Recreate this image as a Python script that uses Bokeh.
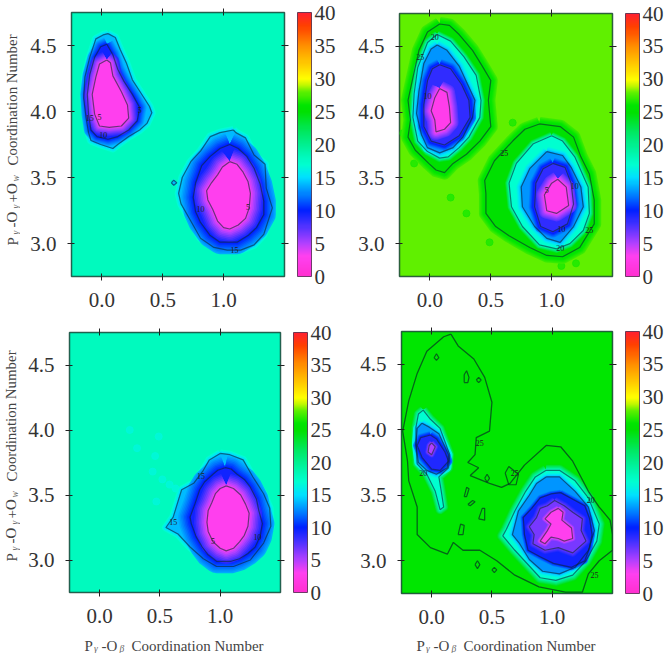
from bokeh.plotting import figure
from bokeh.layouts import column, row
from bokeh.models import (LinearAxis, FixedTicker, PrintfTickFormatter, ColorBar,
                          LinearColorMapper)
from bokeh.core.properties import value
from bokeh.embed import file_html
from bokeh.resources import INLINE

SERIF = "Liberation Serif"
X_TICKS = [0.0, 0.5, 1.0]
Y_TICKS = [3.0, 3.5, 4.0, 4.5]
BAR_TICKS = [0, 5, 10, 15, 20, 25, 30, 35, 40]

STOP_LEVELS = [0, 3, 5, 8, 10, 12, 15, 17, 18, 20, 22, 25, 26, 28, 29, 30, 32, 35, 38, 40]
STOP_COLORS = ["#ff30d0", "#ff40f0", "#b040ff", "#4030ff", "#0020ff", "#0070ff", "#00e0ff",
               "#00ffd0", "#00fabe", "#00f090", "#00e860", "#00e000", "#00e600", "#60f000",
               "#c0f800", "#ffff00", "#ffd000", "#ff9000", "#ff4000", "#ff2030"]

# ---- panel 1, upper-left basin
p1a15x = [.05,.11,.15,.20,.25,.32,.39,.41,.37,.31,.22,.13,.09,-.01,-.09,-.11,-.13,-.15,-.14,-.10,-.05,.01]
p1a15y = [4.59,4.56,4.47,4.37,4.24,4.14,4.04,3.99,3.91,3.86,3.81,3.75,3.72,3.75,3.78,3.84,3.95,4.10,4.26,4.41,4.55,4.58]
p1a10x = [.04,.09,.13,.18,.25,.31,.29,.22,.13,.05,-.04,-.09,-.11,-.12,-.10,-.06,-.01]
p1a10y = [4.51,4.43,4.32,4.23,4.13,4.03,3.93,3.86,3.81,3.79,3.81,3.86,3.98,4.13,4.28,4.41,4.49]
p1a05x = [.04,.07,.09,.16,.21,.22,.16,.06,-.02,-.06,-.08,-.05,-.02]
p1a05y = [4.39,4.37,4.27,4.15,4.05,3.95,3.89,3.88,3.89,3.98,4.13,4.26,4.36]
# ---- panel 1, lower-right basin
p1b15x = [1.08,.97,.89,.81,.73,.66,.63,.65,.73,.81,.92,1.03,1.14,1.25,1.33,1.40,1.35,1.34,1.25,1.18,1.10]
p1b15y = [3.86,3.84,3.81,3.70,3.62,3.50,3.38,3.30,3.17,3.04,2.97,2.95,2.95,2.99,3.07,3.27,3.42,3.60,3.67,3.80,3.84]
p1b10x = [1.05,1.12,1.19,1.25,1.30,1.33,1.33,1.27,1.20,1.11,.97,.89,.81,.77,.75,.77,.82,.89,.97]
p1b10y = [3.75,3.72,3.66,3.57,3.45,3.32,3.22,3.12,3.06,3.01,3.01,3.06,3.16,3.24,3.35,3.46,3.59,3.66,3.72]
p1b05x = [1.05,1.11,1.16,1.20,1.22,1.21,1.18,1.12,1.05,1.00,.95,.91,.87,.86,.90,.95,.99]
p1b05y = [3.62,3.60,3.54,3.47,3.38,3.27,3.19,3.14,3.11,3.12,3.17,3.26,3.33,3.40,3.46,3.52,3.58]
p1c15x = [.57,.59,.615,.59]
p1c15y = [3.46,3.48,3.46,3.44]
p1_label_x = [-.10,-.02,.01,.31,.81,1.20,1.09]
p1_label_y = [3.95,3.96,3.82,4.01,3.26,3.28,2.95]
p1_label_t = ["15","5","10","5","10","5","15"]

# ---- panel 2, upper-left basin
p2a25x = [.08,.16,.24,.35,.43,.50,.48,.50,.41,.30,.19,.12,.05,-.01,-.12,-.18,-.16,-.18,-.14,-.09,-.02]
p2a25y = [4.67,4.66,4.59,4.47,4.35,4.24,4.09,3.89,3.78,3.68,3.61,3.54,3.56,3.61,3.71,3.81,3.94,4.09,4.26,4.47,4.61]
p2a20x = [.06,.17,.28,.38,.42,.41,.32,.24,.15,.08,-.02,-.10,-.14,-.13,-.10,-.02]
p2a20y = [4.59,4.54,4.42,4.28,4.09,3.96,3.81,3.73,3.66,3.65,3.70,3.78,3.96,4.14,4.34,4.53]
p2a15x = [.06,.14,.24,.31,.37,.35,.27,.19,.08,-.02,-.07,-.11,-.09,-.05,.01]
p2a15y = [4.51,4.47,4.35,4.21,4.09,3.96,3.81,3.73,3.69,3.73,3.83,3.99,4.16,4.37,4.48]
p2a10x = [.08,.17,.26,.32,.33,.24,.12,.01,-.05,-.05,-.02,.02]
p2a10y = [4.36,4.33,4.21,4.09,3.96,3.82,3.75,3.78,3.89,4.06,4.24,4.33]
p2a05x = [.08,.14,.16,.17,.12,.05,.04,.01,.04]
p2a05y = [4.18,4.15,4.04,3.92,3.87,3.85,3.94,4.01,4.11]
# ---- panel 2, lower-right basin
p2b25x = [.90,1.07,1.18,1.24,1.31,1.35,1.35,1.23,1.09,.96,.82,.65,.54,.46,.46,.45,.53,.68,.78]
p2b25y = [3.91,3.89,3.81,3.66,3.53,3.33,3.15,2.97,2.90,2.91,2.97,3.06,3.13,3.23,3.38,3.48,3.63,3.78,3.87]
p2b20x = [1.00,1.09,1.19,1.30,1.31,1.26,1.15,1.04,.90,.76,.67,.65,.71,.85]
p2b20y = [3.82,3.78,3.66,3.43,3.23,3.10,3.00,2.96,2.99,3.13,3.28,3.46,3.61,3.76]
p2b15x = [.96,1.09,1.16,1.24,1.26,1.18,1.07,.96,.86,.76,.75,.82]
p2b15y = [3.70,3.67,3.58,3.43,3.28,3.13,3.01,3.04,3.13,3.28,3.43,3.57]
p2b10x = [1.01,1.11,1.16,1.18,1.13,1.01,.91,.86,.87,.93]
p2b10y = [3.61,3.58,3.46,3.30,3.15,3.09,3.13,3.28,3.46,3.57]
p2b05x = [1.05,1.12,1.14,1.04,.96,.94,1.00]
p2b05y = [3.49,3.43,3.29,3.23,3.25,3.37,3.46]
p2_speck_x = [.17,.30,.49,.68,-.13,-.22,1.08,1.20]
p2_speck_y = [3.35,3.23,3.01,3.92,3.61,3.84,2.83,2.85]
p2_label_x = [.04,-.08,-.02,.61,1.19,.96,1.31,1.07,1.08]
p2_label_y = [4.57,4.42,4.12,3.69,3.44,3.41,3.10,2.97,3.11]
p2_label_t = ["20","25","10","25","10","5","25","20","10"]

# ---- panel 3
p3b15x = [1.00,1.08,1.19,1.27,1.36,1.41,1.42,1.36,1.25,1.11,.97,.86,.75,.65,.55,.61,.68,.78,.86,.91]
p3b15y = [3.82,3.81,3.77,3.64,3.51,3.40,3.26,3.13,3.00,2.95,2.95,3.01,3.10,3.20,3.25,3.33,3.54,3.59,3.69,3.77]
p3b10x = [1.04,1.09,1.14,1.20,1.25,1.30,1.32,1.35,1.33,1.29,1.23,1.16,1.09,.97,.90,.85,.80,.76,.75,.79,.83,.87,.94,.98]
p3b10y = [3.71,3.70,3.66,3.62,3.56,3.47,3.38,3.28,3.18,3.10,3.05,3.01,2.99,2.99,3.04,3.10,3.18,3.28,3.33,3.43,3.54,3.60,3.66,3.69]
p3b05x = [1.05,1.11,1.17,1.21,1.24,1.23,1.20,1.16,1.11,1.05,1.00,.94,.90,.89,.90,.93,.96,1.00]
p3b05y = [3.57,3.55,3.50,3.43,3.36,3.26,3.19,3.14,3.09,3.07,3.09,3.14,3.22,3.29,3.38,3.44,3.51,3.55]
p3_speck_x = [.25,.31,.49,.46,.44,.47,.58,.52,.63]
p3_speck_y = [4.00,3.86,3.95,3.80,3.68,3.45,3.58,3.62,3.55]
p3_label_x = [.84,1.31,.94,.61]
p3_label_y = [3.65,3.18,3.15,3.29]
p3_label_t = ["15","10","5","15"]

# ---- panel 4
p4o25x = [.16,.22,.35,.44,.50,.48,.37,.36,.30,.39,.32,.48,.58,.65,.77,.95,1.07,1.17,1.30,1.39,1.48,1.50,1.50,1.39,1.30,1.25,1.11,.89,.69,.54,.40,.26,.18,.13,-.01,-.12,-.12,-.19,-.20,-.24,-.19,-.12,-.04,.10]
p4o25y = [4.73,4.64,4.54,4.40,4.21,3.99,3.94,3.81,3.75,3.71,3.65,3.59,3.56,3.59,3.73,3.88,3.87,3.76,3.53,3.41,3.31,3.20,3.08,3.00,2.90,2.76,2.76,2.80,2.89,3.00,3.08,3.08,3.14,3.05,3.10,3.20,3.41,3.61,3.76,3.99,4.22,4.43,4.60,4.71]
p4a20x = [-.07,-.01,.07,.15,.14,.06,.08,.10,.07,.03,-.04,-.12,-.13,-.13,-.11]
p4a20y = [4.15,4.08,4.01,3.81,3.71,3.64,3.53,3.41,3.39,3.53,3.66,3.74,3.89,4.02,4.12]
p4a15x = [-.08,-.02,.06,.14,.13,.04,-.04,-.11,-.13,-.12]
p4a15y = [4.05,4.02,3.97,3.81,3.71,3.66,3.69,3.75,3.89,4.01]
p4a10x = [-.01,.04,.11,.14,.07,.00,-.08,-.12,-.09]
p4a10y = [3.96,3.93,3.83,3.76,3.69,3.70,3.79,3.88,3.94]
p4a05x = [.00,.03,.00,-.03,-.02]
p4a05y = [3.90,3.87,3.81,3.83,3.88]
p4b20x = [.95,1.06,1.19,1.30,1.39,1.37,1.28,1.17,1.03,.90,.77,.69,.59,.62,.69,.78,.86]
p4b20y = [3.69,3.69,3.61,3.48,3.28,3.15,3.00,2.89,2.85,2.87,3.00,3.08,3.19,3.24,3.38,3.53,3.64]
p4b15x = [.95,1.06,1.19,1.30,1.35,1.30,1.19,1.06,.92,.81,.73,.67,.72,.81,.87]
p4b15y = [3.64,3.64,3.53,3.41,3.23,3.08,2.95,2.90,2.92,3.01,3.13,3.20,3.38,3.50,3.59]
p4b10x = [1.07,1.17,1.27,1.31,1.33,1.31,1.27,1.16,1.01,.90,.80,.77,.76,.83,.90,.99]
p4b10y = [3.52,3.47,3.42,3.32,3.20,3.10,3.00,2.95,2.98,3.03,3.08,3.20,3.33,3.40,3.48,3.51]
p4b07x = [1.02,1.10,1.17,1.25,1.24,1.28,1.17,1.05,.94,.84,.85,.81,.87,.90,.96]
p4b07y = [3.46,3.42,3.37,3.32,3.23,3.15,3.06,3.10,3.08,3.13,3.20,3.26,3.33,3.40,3.42]
p4b04x = [1.05,1.09,1.08,1.16,1.17,1.10,1.05,.99,.94,.90,.96,.99,.94,.99]
p4b04y = [3.40,3.37,3.31,3.25,3.17,3.15,3.17,3.18,3.13,3.15,3.23,3.28,3.32,3.37]
p4_isle_x = [[.02,.04,.06,.04],[.27,.27,.29,.31,.30],[.37,.39,.41,.39],[.30,.34,.36,.32],[.39,.42,.44,.44],
             [.22,.24,.27,.26],[.36,.38,.40,.38],[.50,.52,.54,.52],[.44,.46,.48,.46],[.61,.64,.72,.70,.64],[.27,.29,.31,.29]]
p4_isle_y = [[4.55,4.58,4.55,4.53],[4.36,4.42,4.45,4.40,4.36],[4.38,4.40,4.38,4.36],[3.43,3.46,3.45,3.42],[3.32,3.40,3.40,3.31],
             [3.20,3.28,3.27,3.20],[2.97,3.00,2.97,2.94],[2.93,2.95,2.93,2.91],[3.63,3.66,3.63,3.60],[3.67,3.72,3.66,3.58,3.58],[3.49,3.56,3.55,3.49]]
p4_label_x = [.40,.69,-.07,1.32,1.35]
p4_label_y = [3.90,3.67,3.67,3.46,2.89]
p4_label_t = ["25","25","20","20","25"]

# fill value, value reached at the far end of the soft edge, soft-edge width in px, xs, ys
PANEL1 = [(14,17.5,4,p1a15x,p1a15y),(14,17.5,4,p1b15x,p1b15y),(14,17.5,1,p1c15x,p1c15y),
          (9.5,14,7,p1a10x,p1a10y),(9.5,14,12,p1b10x,p1b10y),
          (2.8,9.5,9,p1a05x,p1a05y),(2.8,9.5,13,p1b05x,p1b05y)]
PANEL2 = [(25,27.5,7,p2a25x,p2a25y),(25,27.5,7,p2b25x,p2b25y),
          (17,25,4,p2a20x,p2a20y),(17,25,4,p2b20x,p2b20y),
          (13,17,5,p2a15x,p2a15y),(13,17,5,p2b15x,p2b15y),
          (8.5,13,6,p2a10x,p2a10y),(8.5,13,6,p2b10x,p2b10y),
          (2.5,8,8,p2a05x,p2a05y),(2.5,8,8,p2b05x,p2b05y)]
PANEL3 = [(14,17.5,4,p3b15x,p3b15y),(9.5,14,12,p3b10x,p3b10y),(2.8,9.5,13,p3b05x,p3b05y)]
PANEL4 = [(17,25.5,5,p4a20x,p4a20y),(17,25.5,6,p4b20x,p4b20y),
          (13,17,4,p4a15x,p4a15y),(13,17,4,p4b15x,p4b15y),
          (9,13,4,p4a10x,p4a10y),(9.5,13,3,p4b10x,p4b10y),
          (5,9,3,p4a05x,p4a05y),(6.5,9.5,4,p4b07x,p4b07y),(2.8,6.5,3,p4b04x,p4b04y)]


def level_color(v):
    v = max(0, min(40, v))
    for i in range(len(STOP_LEVELS) - 1):
        a, b = STOP_LEVELS[i], STOP_LEVELS[i + 1]
        if a <= v <= b:
            t = (v - a) / (b - a)
            c0, c1 = STOP_COLORS[i], STOP_COLORS[i + 1]
            rgb = [round(int(c0[j:j + 2], 16) * (1 - t) + int(c1[j:j + 2], 16) * t) for j in (1, 3, 5)]
            return "#%02x%02x%02x" % tuple(rgb)
    return STOP_COLORS[-1]


PALETTE = [level_color(i * 40 / 255) for i in range(256)]


def closed(a):
    return list(a) + [a[0]]


def make_panel(w, h, left, top, right, bottom, contours, bg, labels, specks=None, speck_level=None,
               speck_size=7, isles=None, outer=None):
    p = figure(width=w, height=h, x_range=(-0.25, 1.5), y_range=(2.75, 4.75),
               output_backend="svg", toolbar_location=None, x_axis_type=None, y_axis_type=None,
               frame_align=False,
               min_border_left=left, min_border_top=top, min_border_right=right,
               min_border_bottom=bottom, border_fill_color="white",
               background_fill_color=level_color(bg), outline_line_color="#0a3a2a",
               outline_line_width=1.5, outline_line_alpha=0.8)
    p.grid.visible = False
    for side, ticks, labelled in (("below", X_TICKS, True), ("left", Y_TICKS, True),
                                  ("above", X_TICKS, False), ("right", Y_TICKS, False)):
        ax = LinearAxis(ticker=FixedTicker(ticks=ticks), axis_line_color=None,
                        major_tick_line_color="#222222", major_tick_line_width=1,
                        major_tick_in=3, major_tick_out=4, minor_tick_line_color=None,
                        formatter=PrintfTickFormatter(format="%.1f"),
                        major_label_text_font=SERIF, major_label_text_color="#333333",
                        major_label_text_font_size="21px" if labelled else "1px",
                        major_label_overrides={} if labelled else {t: "" for t in ticks},
                        major_label_standoff=(12 if side == "below" else 11) if labelled else 0)
        p.add_layout(ax, side)
    # empty axis that only opens the gap between the frame and the colour bar
    p.add_layout(LinearAxis(ticker=FixedTicker(ticks=Y_TICKS), axis_line_color=None,
                            major_tick_line_color=None, major_tick_in=0, major_tick_out=9,
                            minor_tick_line_color=None, major_label_text_font_size="1px",
                            major_label_overrides={t: "" for t in Y_TICKS}, major_label_standoff=0),
                 "right")
    if specks:
        p.scatter(specks[0], specks[1], size=speck_size, color=level_color(speck_level), alpha=0.8)
    for fill, far, soft, xs, ys in contours:
        cx, cy = closed(xs), closed(ys)
        for k in range(8, 0, -1):
            p.line(cx, cy, line_width=2 * soft * k / 8, line_join="round",
                   color=level_color(fill + (far - fill) * k / 9))
        p.patch(xs, ys, fill_color=level_color(fill), line_color=level_color(fill), line_width=1)
    if outer:
        p.line(closed(outer[0]), closed(outer[1]), line_color="#063a20", line_alpha=0.75, line_width=1.3)
    for fill, far, soft, xs, ys in contours:
        p.line(closed(xs), closed(ys), line_color="#082a30", line_alpha=0.6, line_width=1.2)
    if isles:
        p.multi_line([closed(a) for a in isles[0]], [closed(a) for a in isles[1]],
                     line_color="#063a20", line_alpha=0.75, line_width=1.2)
    p.text(labels[0], labels[1], text=labels[2], text_font=value(SERIF), text_font_size="8px",
           text_color="#222222", text_align="center", text_baseline="middle")
    bar = ColorBar(color_mapper=LinearColorMapper(palette=PALETTE, low=0, high=40),
                   ticker=FixedTicker(ticks=BAR_TICKS), width=14, height="auto",
                   margin=0, padding=0, label_standoff=3,
                   major_tick_line_color=None, minor_tick_line_color=None,
                   bar_line_color="#331133", bar_line_alpha=0.7,
                   major_label_text_font=SERIF, major_label_text_font_size="21px",
                   major_label_text_color="#333333")
    p.add_layout(bar, "right")
    return p


def strip(w, h):
    s = figure(width=w, height=h, x_range=(0, w), y_range=(0, h), output_backend="svg",
               toolbar_location=None, x_axis_type=None, y_axis_type=None, frame_align=False,
               min_border=0, min_border_left=0, min_border_right=0, min_border_top=0,
               min_border_bottom=0, outline_line_color=None, background_fill_color="white",
               border_fill_color="white")
    s.grid.visible = False
    return s


def pieces(p, parts, x0, y0, along_y, size):
    for text, off, sub, ital in parts:
        p.text([x0 + (sub if along_y else off)], [y0 + (off if along_y else -sub)], text=[text],
               angle=1.5708 if along_y else 0.0, text_font=value(SERIF),
               text_font_size="9.5px" if sub else f"{size}px",
               text_font_style="italic" if ital else "normal",
               text_color="#666666" if sub else "#444444",
               text_align="left", text_baseline="alphabetic")


Y_PARTS = [("P", 0, 0, False), ("γ", 11, 3, True), ("-O", 18, 0, False), ("γ", 37, 3, True),
           ("+O", 43, 0, False), ("w", 64, 3, True), ("Coordination Number", 80, 0, False)]
X_PARTS = [("P", 0, 0, False), ("γ", 9.5, 2.5, True), ("-O", 17, 0, False), ("β", 35, 2.5, True),
           ("Coordination Number", 47, 0, False)]

f1 = make_panel(318, 320, 51, 12, 53, 44, PANEL1, 18, (p1_label_x, p1_label_y, p1_label_t))
f2 = make_panel(328, 320, 61, 13, 54, 44, PANEL2, 28, (p2_label_x, p2_label_y, p2_label_t),
                (p2_speck_x, p2_speck_y), 26.5)
f3 = make_panel(318, 312, 49, 12, 58, 40, PANEL3, 18, (p3_label_x, p3_label_y, p3_label_t),
                (p3_speck_x, p3_speck_y), 16.5, 7)
f4 = make_panel(328, 312, 63, 11, 53, 39, PANEL4, 26, (p4_label_x, p4_label_y, p4_label_t),
                isles=(p4_isle_x, p4_isle_y), outer=(p4o25x, p4o25y))

y1 = strip(20, 320)
pieces(y1, Y_PARTS, 12, 75, True, 14.9)
y3 = strip(20, 333)
pieces(y3, Y_PARTS, 11, 92, True, 14.9)
x3 = strip(318, 21)
pieces(x3, X_PARTS, 64, 7.5, False, 15)
x4 = strip(328, 21)
pieces(x4, X_PARTS, 78, 7.5, False, 15)

root = column(row(y1, f1, f2), row(y3, column(f3, x3), column(f4, x4)))
open("out.html", "w").write(file_html(root, INLINE))
